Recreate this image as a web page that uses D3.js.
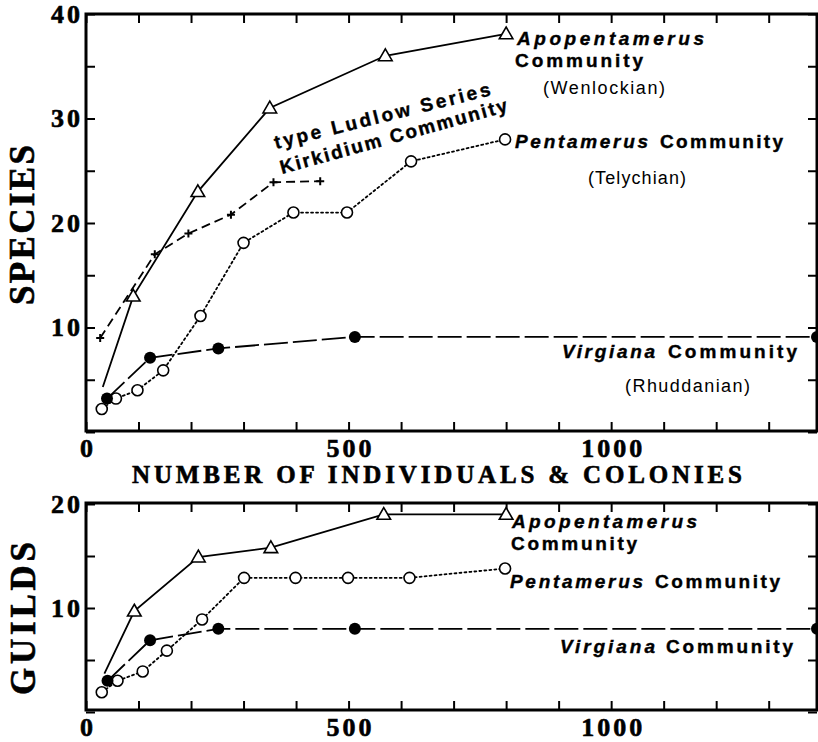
<!DOCTYPE html>
<html>
<head>
<meta charset="utf-8">
<script src="https://cdn.jsdelivr.net/npm/d3@7"></script>
<style>
  body { margin: 0; background: #fff; }
  svg { display: block; }
  .tick line { stroke: #000; stroke-width: 2; }
  .num { font-family: "Liberation Serif", "Times New Roman", serif; font-weight: bold; font-size: 26px; letter-spacing: 3px; fill: #000; stroke: #000; stroke-width: 0.6px; }
  .title { font-family: "Liberation Serif", "Times New Roman", serif; font-weight: bold; fill: #000; stroke: #000; stroke-width: 0.6px; }
  .lab { font-family: "Liberation Sans", Arial, sans-serif; font-weight: bold; font-size: 19px; fill: #000; stroke: #000; stroke-width: 0.4px; }
  .lab.it { font-style: italic; }
  .sub { font-family: "Liberation Sans", Arial, sans-serif; font-size: 18px; fill: #000; }
</style>
</head>
<body>
<svg id="chart" width="818" height="742"></svg>
<script>
// x = number of individuals & colonies, y = species / guilds
// first point of the Apopentamerus curves has no marker in the original

const apoSpecies = [[32, 4.3], [90, 13], [213, 23], [350, 31], [570, 36], [800, 38.1]];
const kirkSpecies = [[27, 9], [131, 17], [195, 19], [276, 20.8], [357, 23.9], [446, 24]];
const pentSpecies = [[30, 2.2], [57, 3.2], [98, 4], [147, 5.9], [218, 11.1], [300, 18.1],
                     [395, 21], [497, 21], [619, 25.9], [798, 28]];
const virgSpecies = [[40, 3.2], [122, 7.1], [252, 8], [512, 9.1], [1392, 9.1]];

const apoGuilds = [[35, 3.7], [92, 9.7], [214, 14.9], [352, 15.8], [567, 19], [800, 19]];
const pentGuilds = [[30, 1.9], [60, 3], [108, 3.9], [154, 5.9], [221, 8.9], [301, 12.9],
                    [399, 12.9], [499, 12.9], [616, 12.9], [798, 13.8]];
const virgGuilds = [[41, 3], [122, 6.9], [252, 8], [512, 8], [1392, 8]];

const xTicks = d3.range(0, 1400, 100);
const xLabels = [0, 500, 1000];
const speciesTicks = d3.range(0, 41, 5);
const speciesLabels = [10, 20, 30, 40];
const guildTicks = d3.range(0, 21, 5);
const guildLabels = [10, 20];

const svg = d3.select("#chart");

const left = 86, right = 817;
const x = d3.scaleLinear().domain([0, 1392]).range([left, right]);

const ySp = d3.scaleLinear().domain([0, 40]).range([432, 14]);
const yGu = d3.scaleLinear().domain([0, 20]).range([712, 504]);

function drawPanel(y, top, bottom, yTicks, yLabels) {
    const g = svg.append("g");

    const fmtX = d => xLabels.includes(d) ? d : "";
    const fmtY = d => yLabels.includes(d) ? d : "";

    g.append("g")
        .attr("transform", `translate(0,${bottom})`)
        .call(d3.axisBottom(x).tickValues(xTicks).tickSize(-9).tickPadding(8).tickFormat(fmtX))
        .call(a => a.select(".domain").remove())
        .selectAll("text").attr("class", "num").attr("dx", "1.5px");

    g.append("g")
        .attr("transform", `translate(0,${top})`)
        .call(d3.axisTop(x).tickValues(xTicks).tickSize(-9).tickFormat(""))
        .call(a => a.select(".domain").remove());

    g.append("g")
        .attr("transform", `translate(${left},0)`)
        .call(d3.axisLeft(y).tickValues(yTicks).tickSize(-9).tickPadding(3).tickFormat(fmtY))
        .call(a => a.select(".domain").remove())
        .selectAll("text").attr("class", "num");

    g.append("g")
        .attr("transform", `translate(${right},0)`)
        .call(d3.axisRight(y).tickValues(yTicks).tickSize(-9).tickFormat(""))
        .call(a => a.select(".domain").remove());

    g.append("rect")
        .attr("x", left)
        .attr("y", top)
        .attr("width", right - left)
        .attr("height", bottom - top)
        .attr("fill", "none")
        .attr("stroke", "black")
        .attr("stroke-width", 3);
}

drawPanel(ySp, 14, 431, speciesTicks, speciesLabels);
drawPanel(yGu, 503, 710, guildTicks, guildLabels);

function drawSeries(data, y, dash, marker, skipFirst) {
    const line = d3.line().x(d => x(d[0])).y(d => y(d[1]));
    svg.append("path")
        .datum(data)
        .attr("d", line)
        .attr("fill", "none")
        .attr("stroke", "black")
        .attr("stroke-width", 1.8)
        .attr("stroke-dasharray", dash)
        .attr("stroke-linecap", dash === "2,3" ? "round" : "butt");

    const pts = skipFirst ? data.slice(1) : data;
    const g = svg.append("g");
    if (marker === "triangle") {
        g.selectAll("path")
            .data(pts)
            .enter()
            .append("path")
            .attr("d", d3.symbol().type(d3.symbolTriangle).size(80))
            .attr("transform", d => `translate(${x(d[0])},${y(d[1]) + 1})`)
            .attr("fill", "white")
            .attr("stroke", "black")
            .attr("stroke-width", 1.6);
    } else if (marker === "open") {
        g.selectAll("circle")
            .data(pts)
            .enter()
            .append("circle")
            .attr("cx", d => x(d[0]))
            .attr("cy", d => y(d[1]))
            .attr("r", 5.5)
            .attr("fill", "white")
            .attr("stroke", "black")
            .attr("stroke-width", 1.6);
    } else if (marker === "filled") {
        g.selectAll("circle")
            .data(pts)
            .enter()
            .append("circle")
            .attr("cx", d => x(d[0]))
            .attr("cy", d => y(d[1]))
            .attr("r", 6)
            .attr("fill", "black");
    } else if (marker === "plus") {
        g.selectAll("path")
            .data(pts)
            .enter()
            .append("path")
            .attr("d", "M-4,0H4M0,-4V4")
            .attr("transform", d => `translate(${x(d[0])},${y(d[1])})`)
            .attr("stroke", "black")
            .attr("stroke-width", 2);
    }
}

drawSeries(apoSpecies, ySp, null, "triangle", true);
drawSeries(kirkSpecies, ySp, "9,5", "plus", false);
drawSeries(pentSpecies, ySp, "2,3", "open", false);
drawSeries(virgSpecies, ySp, "24,5", "filled", false);

drawSeries(apoGuilds, yGu, null, "triangle", true);
drawSeries(pentGuilds, yGu, "2,3", "open", false);
drawSeries(virgGuilds, yGu, "24,5", "filled", false);

// text, x, baseline, stretched length, class
function label(t, px, py, len, cls) {
    svg.append("text")
        .attr("class", cls)
        .attr("x", px)
        .attr("y", py)
        .attr("textLength", len)
        .attr("lengthAdjust", "spacing")
        .text(t);
}

label("Apopentamerus", 517, 45, 187, "lab it");
label("Community", 515, 67, 128, "lab");
label("(Wenlockian)", 543, 94, 122, "sub");
label("Pentamerus", 515, 148, 133, "lab it");
label("Community", 660, 148, 123, "lab");
label("(Telychian)", 588, 184, 98, "sub");
label("Virgiana", 562, 358, 93, "lab it");
label("Community", 668, 358, 129, "lab");
label("(Rhuddanian)", 625, 392, 125, "sub");

label("Apopentamerus", 512, 528, 185, "lab it");
label("Community", 511, 550, 126, "lab");
label("Pentamerus", 510, 588, 133, "lab it");
label("Community", 655, 588, 125, "lab");
label("Virgiana", 560, 653, 95, "lab it");
label("Community", 666, 653, 127, "lab");

svg.append("text")
    .attr("class", "lab")
    .attr("transform", "translate(276,149) rotate(-14)")
    .attr("textLength", 222)
    .attr("lengthAdjust", "spacing")
    .text("type Ludlow Series");

svg.append("text")
    .attr("class", "lab")
    .attr("transform", "translate(282,174) rotate(-15.5)")
    .attr("textLength", 235)
    .attr("lengthAdjust", "spacing")
    .text("Kirkidium Community");

// axis titles
svg.append("text")
    .attr("class", "title")
    .attr("x", 132)
    .attr("y", 483)
    .attr("font-size", 25)
    .attr("textLength", 610)
    .attr("lengthAdjust", "spacing")
    .text("NUMBER OF INDIVIDUALS & COLONIES");

svg.append("text")
    .attr("class", "title")
    .attr("transform", "translate(34,305) rotate(-90)")
    .attr("font-size", 35)
    .attr("textLength", 160)
    .attr("lengthAdjust", "spacing")
    .text("SPECIES");

svg.append("text")
    .attr("class", "title")
    .attr("transform", "translate(35,695) rotate(-90)")
    .attr("font-size", 35)
    .attr("textLength", 153)
    .attr("lengthAdjust", "spacing")
    .text("GUILDS");
</script>
</body>
</html>
